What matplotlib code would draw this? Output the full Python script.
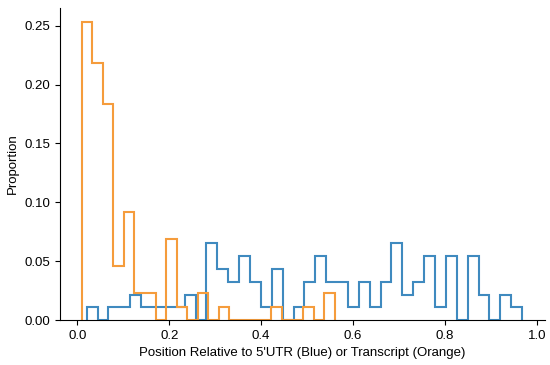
import numpy as np
import matplotlib
matplotlib.use("Agg")
import matplotlib.pyplot as plt

# bin counts (proportion = count / total)
utr_counts = [1, 0, 1, 1, 2, 1, 1, 1, 1, 2, 0, 6, 4, 3, 5, 3, 1, 4, 0, 1,
              3, 5, 3, 3, 1, 3, 1, 3, 6, 2, 3, 5, 1, 5, 0, 5, 2, 0, 2, 1]
utr_total = 92
utr_range = (0.0203, 0.968)

tx_counts = [22, 19, 16, 4, 8, 2, 2, 0, 6, 1, 0, 2, 0, 1, 0, 0, 0, 0, 1, 0,
             0, 1, 0, 2]
tx_total = 87
tx_range = (0.0096, 0.560)

xticks = [0.0, 0.2, 0.4, 0.6, 0.8, 1.0]
yticks = [0.00, 0.05, 0.10, 0.15, 0.20, 0.25]

plt.rcParams['font.family'] = ['Liberation Sans', 'DejaVu Sans']
plt.rcParams['font.size'] = 9.5

fig = plt.figure(figsize=(5.5, 3.65), dpi=100)
ax = fig.add_axes([0.109, 0.123, 0.882, 0.855])

utr_edges = np.linspace(utr_range[0], utr_range[1], len(utr_counts) + 1)
tx_edges = np.linspace(tx_range[0], tx_range[1], len(tx_counts) + 1)

ax.stairs(np.array(utr_counts) / utr_total, utr_edges, color='#3f8abf', linewidth=1.5)
ax.stairs(np.array(tx_counts) / tx_total, tx_edges, color='#f59c3c', linewidth=1.5)

ax.set_xlim(-0.038, 1.018)
ax.set_ylim(0, 0.265)
ax.set_xticks(xticks)
ax.set_yticks(yticks)
ax.set_xticklabels([f'{t:.1f}' for t in xticks])
ax.set_yticklabels([f'{t:.2f}' for t in yticks])
ax.spines['top'].set_visible(False)
ax.spines['right'].set_visible(False)
ax.tick_params(length=3.5, width=0.8)
ax.set_xlabel("Position Relative to 5'UTR (Blue) or Transcript (Orange)")
ax.set_ylabel('Proportion')

fig.savefig('out.png', dpi=100)
